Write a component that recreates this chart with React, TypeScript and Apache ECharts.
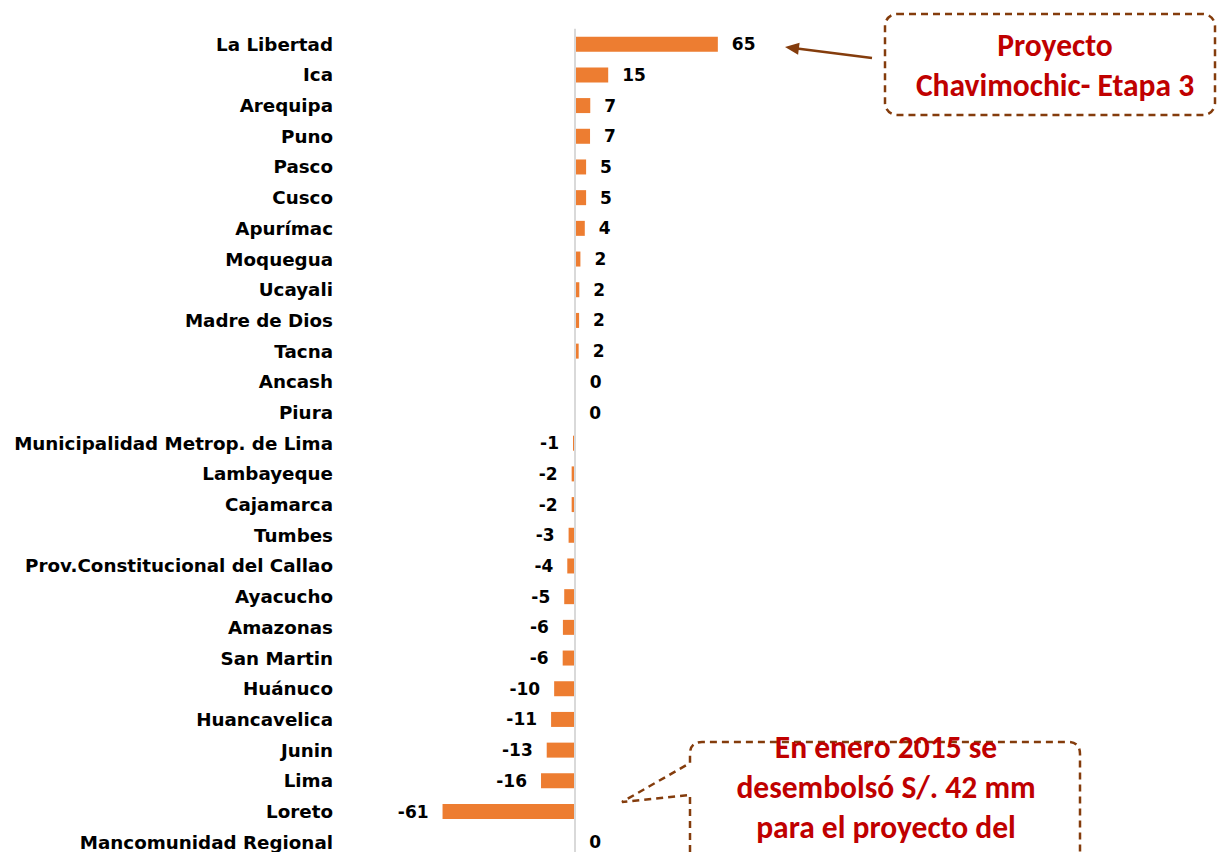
import React, { useEffect, useRef } from "react";
import * as echarts from "echarts";

const categories = [
  "La Libertad", "Ica", "Arequipa", "Puno", "Pasco", "Cusco", "Apurímac", "Moquegua",
  "Ucayali", "Madre de Dios", "Tacna", "Ancash", "Piura", "Municipalidad Metrop. de Lima",
  "Lambayeque", "Cajamarca", "Tumbes", "Prov.Constitucional del Callao", "Ayacucho",
  "Amazonas", "San Martin", "Huánuco", "Huancavelica", "Junin", "Lima", "Loreto",
  "Mancomunidad Regional",
];

const values = [
  65.2, 15.1, 6.9, 6.8, 5.0, 5.0, 4.4, 2.4, 1.9, 1.8, 1.6, 0.3, 0, -1.0, -1.6, -1.6, -3.0,
  -3.6, -5.0, -5.6, -5.7, -9.6, -11.0, -13.0, -15.6, -60.6, 0,
];

const note1Lines = ["Proyecto", "Chavimochic- Etapa 3"];
const note2Lines = ["En enero 2015 se", "desembolsó S/. 42 mm", "para el proyecto del"];

const BAR = "#ED7D31";
const BORDER = "#843C0C";
const NOTE = "#C00000";

let registered = false;
function registerShapes() {
  if (registered) return;
  registered = true;
  const d =
    "M 690 900 L 690 795 L 622 802 L 690 763 L 690 754 Q 690 742 702 742 L 1068 742 Q 1080 742 1080 754 L 1080 900";
  echarts.graphic.registerShape("callout2", echarts.graphic.extendPath(d, {}));
}

export default function App() {
  const ref = useRef<HTMLDivElement>(null);
  useEffect(() => {
    if (!ref.current) return;
    registerShapes();
    const chart = echarts.init(ref.current, undefined, { renderer: "svg" });
    const data = values.map((v) => ({
      value: v,
      label: { position: v < 0 ? "left" : "right" },
    }));
    const option = {
      animation: false,
      backgroundColor: "#fff",
      grid: { left: 341, top: 28.85, width: 453, height: 828.7 },
      xAxis: { type: "value", min: -107, max: 100, show: false },
      yAxis: {
        type: "category",
        data: categories,
        inverse: true,
        axisLine: { show: false },
        axisTick: { show: false },
        splitLine: { show: false },
        axisLabel: {
          margin: 8,
          color: "#000",
          fontFamily: "DejaVu Sans",
          fontWeight: "bold",
          fontSize: 18.3,
        },
      },
      series: [
        {
          type: "bar",
          data,
          barWidth: 15,
          itemStyle: { color: BAR },
          label: {
            show: true,
            distance: 14,
            color: "#000",
            fontFamily: "DejaVu Sans",
            fontWeight: "bold",
            fontSize: 17,
            formatter: (p: any) => String(Math.round(p.value) || 0),
          },
          markLine: {
            silent: true,
            symbol: ["none", "none"],
            label: { show: false },
            lineStyle: { color: "#D9D9D9", width: 2, type: "solid" },
            data: [{ xAxis: 0 }],
          },
        },
      ],
      graphic: [
        {
          type: "rect",
          shape: { x: 885, y: 14, width: 330, height: 101, r: 12 },
          style: { fill: "#fff", stroke: BORDER, lineWidth: 2.5, lineDash: [7, 5] },
        },
        {
          type: "text",
          x: 1055,
          y: 25,
          style: {
            text: note1Lines.join("\n"),
            fill: NOTE,
            fontSize: 31.5,
            fontWeight: "bold",
            fontFamily: "Carlito, Lato, sans-serif",
            textAlign: "center",
            textVerticalAlign: "top",
            lineHeight: 40,
          },
        },
        {
          type: "line",
          shape: { x1: 872, y1: 58, x2: 797, y2: 48.5 },
          style: { stroke: BORDER, lineWidth: 2.5 },
        },
        {
          type: "polygon",
          shape: { points: [[785, 47], [799.6, 42.8], [798.1, 54.7]] },
          style: { fill: BORDER },
        },
        {
          type: "callout2",
          x: 0,
          y: 0,
          style: { fill: "#fff", stroke: BORDER, lineWidth: 2.5, lineDash: [7, 5] },
        },
        {
          type: "text",
          x: 886,
          y: 727,
          style: {
            text: note2Lines.join("\n"),
            fill: NOTE,
            fontSize: 31.5,
            fontWeight: "bold",
            fontFamily: "Carlito, Lato, sans-serif",
            textAlign: "center",
            textVerticalAlign: "top",
            lineHeight: 40,
          },
        },
      ],
    };
    chart.setOption(option as any);
    return () => chart.dispose();
  }, []);
  return (
    <div
      ref={ref}
      style={{ position: "fixed", left: 0, top: 0, width: 1220, height: 900 }}
    />
  );
}
